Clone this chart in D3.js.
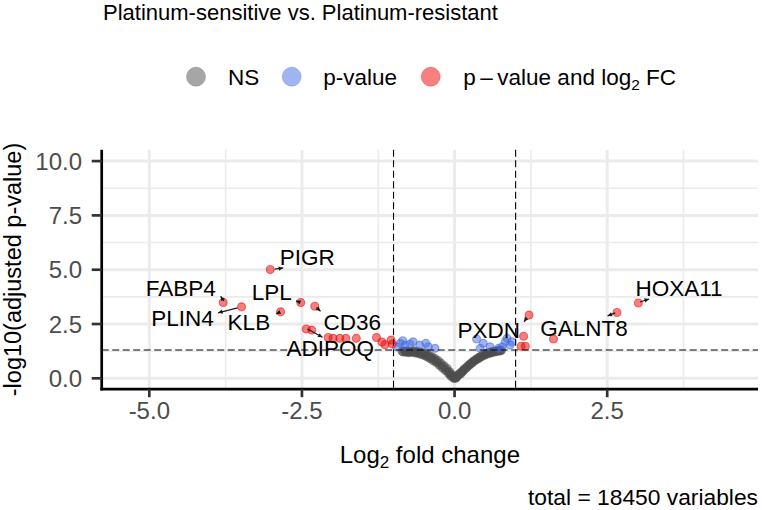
<!DOCTYPE html>
<html><head><meta charset="utf-8">
<script src="https://cdn.jsdelivr.net/npm/d3@7"></script>
<style>
body{margin:0;background:#fff}
svg text{font-family:"Liberation Sans",Arial,Helvetica,sans-serif}
</style>
</head><body>
<svg id="chart" width="762" height="510"></svg>
<script>
// ---------------- data ----------------
const titleText = "Platinum-sensitive vs. Platinum-resistant";
const captionText = "total = 18450 variables";
const xTicks = [-5, -2.5, 0, 2.5];
const xMinor = [-3.75, -1.25, 1.25, 3.75];
const yTicks = [0, 2.5, 5, 7.5, 10];
const yMinor = [1.25, 3.75, 6.25, 8.75];
const fcCutoff = 1;
const pCutoff = 0.05;

// NS points (log2FC, -log10 adj p)
const nsPoints = [
  [-0.86,1.24],[-0.82,1.27],[-0.8,1.2],[-0.77,1.25],[-0.75,1.18],[-0.72,1.26],[-0.7,1.2],[-0.67,1.27],
  [-0.65,1.17],[-0.62,1.24],[-0.6,1.14],[-0.57,1.22],[-0.55,1.1],[-0.52,1.19],[-0.5,1.05],[-0.47,1.15],
  [-0.45,0.98],[-0.42,1.07],[-0.4,0.9],[-0.37,0.99],[-0.35,0.81],[-0.32,0.91],[-0.3,0.73],[-0.27,0.82],
  [-0.25,0.6],[-0.22,0.7],[-0.2,0.48],[-0.17,0.58],[-0.15,0.36],[-0.12,0.45],[-0.1,0.22],[-0.08,0.3],
  [-0.06,0.1],[-0.04,0.16],[-0.02,0.02],[0.0,0.05],
  [0.02,0.0],[0.04,0.08],[0.06,0.14],[0.08,0.22],[0.1,0.2],[0.12,0.32],[0.14,0.33],[0.16,0.44],
  [0.19,0.46],[0.21,0.56],[0.24,0.6],[0.26,0.68],[0.29,0.71],[0.31,0.8],[0.34,0.82],[0.36,0.9],
  [0.39,0.9],[0.41,0.99],[0.44,0.99],[0.46,1.07],[0.49,1.06],[0.51,1.14],[0.54,1.12],[0.56,1.19],
  [0.59,1.16],[0.61,1.23],[0.64,1.2],[0.66,1.26],[0.69,1.23],[0.71,1.28],[0.74,1.26],[0.77,1.29],
  [-0.84,1.21],[-0.79,1.23],[-0.74,1.22],[-0.69,1.23],[-0.64,1.2],[-0.59,1.18],[-0.54,1.14],[-0.49,1.1],
  [-0.44,1.03],[-0.39,0.95],[-0.34,0.86],[-0.29,0.77],[-0.24,0.65],[-0.19,0.53],[-0.14,0.4],[-0.09,0.26],
  [-0.05,0.13],[-0.01,0.0],
  [0.03,0.04],[0.07,0.18],[0.11,0.27],[0.15,0.38],[0.2,0.51],[0.25,0.64],[0.3,0.76],[0.35,0.86],
  [0.4,0.95],[0.45,1.03],[0.5,1.1],[0.55,1.16],[0.6,1.19],[0.65,1.23],[0.7,1.26],[0.75,1.27]
];
// significant p-value only
const pvaluePoints = [
  [-0.95,1.45],[-0.89,1.61],[-0.85,1.73],[-0.81,1.53],[-0.73,1.58],[-0.68,1.68],[-0.57,1.53],
  [-0.47,1.61],[-0.43,1.45],[-0.32,1.38],
  [0.36,1.81],[0.42,1.38],[0.47,1.61],[0.58,1.45],[0.72,1.38],[0.78,1.45],[0.83,1.68],
  [0.86,1.84],[0.91,1.53],[0.94,1.68]
];
// p-value and log2 FC (unlabelled)
const bothPoints = [
  [-2.34,2.22],[-2.07,1.88],[-1.99,1.84],[-1.88,1.84],[-1.78,1.84],[-1.61,1.84],
  [-1.28,1.88],[-1.19,1.67],[-1.14,1.55],[-1.04,1.76],[-1.02,1.58],
  [1.13,1.94],[1.09,1.48],[1.16,1.48],[1.62,1.81]
];
// labelled genes
const labelGenes  = ["PIGR","FABP4","PLIN4","KLB","LPL","CD36","ADIPOQ","PXDN","GALNT8","HOXA11"];
const labelLog2FC = [-3.02,-3.79,-3.49,-2.85,-2.52,-2.29,-2.43,1.22,2.66,3.01];
const labelLogP   = [5.01,3.49,3.29,3.06,3.49,3.32,2.27,2.91,3.03,3.47];

// label layout (pixel offsets from the point: text centre/baseline, connector start, connector end)
const labelLayout = {
  PIGR:   {tx:37,   ty:-4.3, sx:4.5, sy:-0.3, ex:13,   ey:-1.6},
  FABP4:  {tx:-42.5,ty:-6.6, sx:0.7, sy:-1.6, ex:-2.6, ey:-6.3},
  PLIN4:  {tx:-58.9,ty:19,   sx:-4,  sy:1,    ex:-23.4,ey:6},
  KLB:    {tx:-31.7,ty:18.3, sx:-1,  sy:0.5,  ex:-4.5, ey:2},
  LPL:    {tx:-29,  ty:-2.3, sx:-0.5,sy:-0.2, ex:-4.7, ey:-1.6},
  CD36:   {tx:37.5, ty:23.3, sx:1.7, sy:1.3,  ex:5.7,  ey:5},
  ADIPOQ: {tx:24,   ty:27,   sx:1.3, sy:0,    ex:16.3, ey:8.3},
  PXDN:   {tx:-40.3,ty:23.3, sx:-2.3,sy:2.7,  ex:-5,   ey:6.7},
  GALNT8: {tx:-33,  ty:23.7, sx:-1.7,sy:0.4,  ex:-9.4, ey:3.4},
  HOXA11: {tx:40.7, ty:-7,   sx:1.7, sy:-1,   ex:10.7, ey:-4}
};

// ---------------- drawing ----------------
const svg = d3.select("#chart");
const panel = {l:101.7, r:758, t:149.8, b:389.2};
const x = d3.scaleLinear().domain([-5.78, 4.97]).range([panel.l, panel.r]);
const y = d3.scaleLinear().domain([-0.5, 10.52]).range([panel.b, panel.t]);

const colNS = "#4d4d4d", colP = "#4169e1", colBoth = "#ee0000";
const grid = svg.append("g");
grid.selectAll(".vmin").data(xMinor).join("line")
  .attr("x1", d=>x(d)).attr("x2", d=>x(d)).attr("y1", panel.t).attr("y2", panel.b)
  .attr("stroke", "#ebebeb").attr("stroke-width", 1.6);
grid.selectAll(".hmin").data(yMinor).join("line")
  .attr("y1", d=>y(d)).attr("y2", d=>y(d)).attr("x1", panel.l).attr("x2", panel.r)
  .attr("stroke", "#ebebeb").attr("stroke-width", 1.6);
grid.selectAll(".vmaj").data(xTicks).join("line")
  .attr("x1", d=>x(d)).attr("x2", d=>x(d)).attr("y1", panel.t).attr("y2", panel.b)
  .attr("stroke", "#ebebeb").attr("stroke-width", 3);
grid.selectAll(".hmaj").data(yTicks).join("line")
  .attr("y1", d=>y(d)).attr("y2", d=>y(d)).attr("x1", panel.l).attr("x2", panel.r)
  .attr("stroke", "#ebebeb").attr("stroke-width", 3);

const R = 4.0;
const pts = svg.append("g");
function drawPts(data, col){
  pts.append("g").selectAll("circle").data(data).join("circle")
    .attr("cx", d=>x(d[0])).attr("cy", d=>y(d[1])).attr("r", R)
    .attr("fill", col).attr("fill-opacity", 0.5)
    .attr("stroke", col).attr("stroke-opacity", 0.5).attr("stroke-width", 1.1);
}
drawPts(nsPoints, colNS);
drawPts(pvaluePoints, colP);
drawPts(bothPoints, colBoth);
const labelled = labelGenes.map((g,i)=>({gene:g, fc:labelLog2FC[i], p:labelLogP[i]}));
drawPts(labelled.map(d=>[d.fc, d.p]), colBoth);

// threshold lines
const thr = svg.append("g").attr("stroke", "#000").attr("stroke-width", 1.1).attr("stroke-dasharray", "7,3.5").attr("fill","none");
[-fcCutoff, fcCutoff].forEach(v=>{
  thr.append("line").attr("x1", x(v)).attr("x2", x(v)).attr("y1", panel.t).attr("y2", panel.b);
});
thr.append("line").attr("x1", panel.l).attr("x2", panel.r)
  .attr("y1", y(-Math.log10(pCutoff))).attr("y2", y(-Math.log10(pCutoff)));

// connectors & labels
svg.append("defs").append("marker").attr("id","ah").attr("markerUnits","userSpaceOnUse")
  .attr("markerWidth", 8).attr("markerHeight", 8).attr("refX", 4.5).attr("refY", 0)
  .attr("viewBox","-1 -4 8 8").attr("orient","auto")
  .append("path").attr("d","M0,-2.2L4.5,0L0,2.2Z").attr("fill","#1a1a1a");
const lab = svg.append("g");
labelled.forEach(d=>{
  const L = labelLayout[d.gene];
  const px = x(d.fc), py = y(d.p);
  lab.append("line").attr("x1", px+L.sx).attr("y1", py+L.sy).attr("x2", px+L.ex).attr("y2", py+L.ey)
    .attr("stroke","#1a1a1a").attr("stroke-width",1.2).attr("marker-end","url(#ah)");
  lab.append("text").attr("x", px+L.tx).attr("y", py+L.ty).attr("text-anchor","middle")
    .attr("font-size", 22.5).attr("fill","#000").text(d.gene);
});

// axes
const axisG = svg.append("g");
axisG.append("line").attr("x1", panel.l).attr("x2", panel.l).attr("y1", panel.t).attr("y2", panel.b+1.3)
  .attr("stroke","#000").attr("stroke-width",2.7);
axisG.append("line").attr("x1", panel.l-1.3).attr("x2", panel.r).attr("y1", panel.b).attr("y2", panel.b)
  .attr("stroke","#000").attr("stroke-width",2.7);
axisG.selectAll(".yt").data(yTicks).join("line")
  .attr("x1", panel.l-10).attr("x2", panel.l).attr("y1", d=>y(d)).attr("y2", d=>y(d))
  .attr("stroke","#333").attr("stroke-width",2.7);
axisG.selectAll(".xt").data(xTicks).join("line")
  .attr("y1", panel.b).attr("y2", panel.b+8).attr("x1", d=>x(d)).attr("x2", d=>x(d))
  .attr("stroke","#333").attr("stroke-width",2.7);
axisG.selectAll(".ytl").data(yTicks).join("text")
  .attr("x", 82).attr("y", d=>y(d)+8.5).attr("text-anchor","end")
  .attr("font-size",24).attr("fill","#4d4d4d").text(d=>d3.format(".1f")(d));
axisG.selectAll(".xtl").data(xTicks).join("text")
  .attr("x", d=>x(d)).attr("y", panel.b+29.5).attr("text-anchor","middle")
  .attr("font-size",24).attr("fill","#4d4d4d").text(d=>d3.format(".1f")(d).replace("−","-"));

// axis titles
const xt = svg.append("text").attr("x", (panel.l+panel.r)/2).attr("y", 463)
  .attr("text-anchor","middle").attr("font-size",24).attr("fill","#000");
xt.append("tspan").text("Log");
xt.append("tspan").attr("font-size",17).attr("dy",5).text("2");
xt.append("tspan").attr("dy",-5).text(" fold change");
svg.append("text").attr("transform",`translate(20.5,${(panel.t+panel.b)/2}) rotate(-90)`)
  .attr("text-anchor","middle").attr("font-size",23.5).attr("fill","#000")
  .text("-log10(adjusted p-value)");

// title & caption
svg.append("text").attr("x",103).attr("y",20).attr("font-size",22).attr("fill","#000").text(titleText);
svg.append("text").attr("x",758).attr("y",505).attr("text-anchor","end").attr("font-size",22.8).attr("fill","#000").text(captionText);

// legend
const legY = 76.7;
const leg = svg.append("g");
const legItems = [
  {cx:196, tx:228, col:colNS, parts:[["NS",0]]},
  {cx:291.7, tx:323.3, col:colP, parts:[["p-value",0]]},
  {cx:430.7, tx:463.3, col:colBoth, parts:[["p\u2009\u2013\u2009value and log",0],["2",1],[" FC",-1]]}
];
legItems.forEach(it=>{
  leg.append("circle").attr("cx", it.cx).attr("cy", legY).attr("r", 9.6).attr("fill", it.col).attr("fill-opacity",0.5)
    .attr("stroke", it.col).attr("stroke-opacity",0.25).attr("stroke-width",0.8);
  const t = leg.append("text").attr("x", it.tx).attr("y", legY+8).attr("font-size",22.5).attr("fill","#000");
  it.parts.forEach(([s,sub])=>{
    const sp = t.append("tspan").text(s);
    if(sub===1) sp.attr("font-size",15.5).attr("dy",5);
    if(sub===-1) sp.attr("dy",-5);
  });
});
</script>
</body></html>
